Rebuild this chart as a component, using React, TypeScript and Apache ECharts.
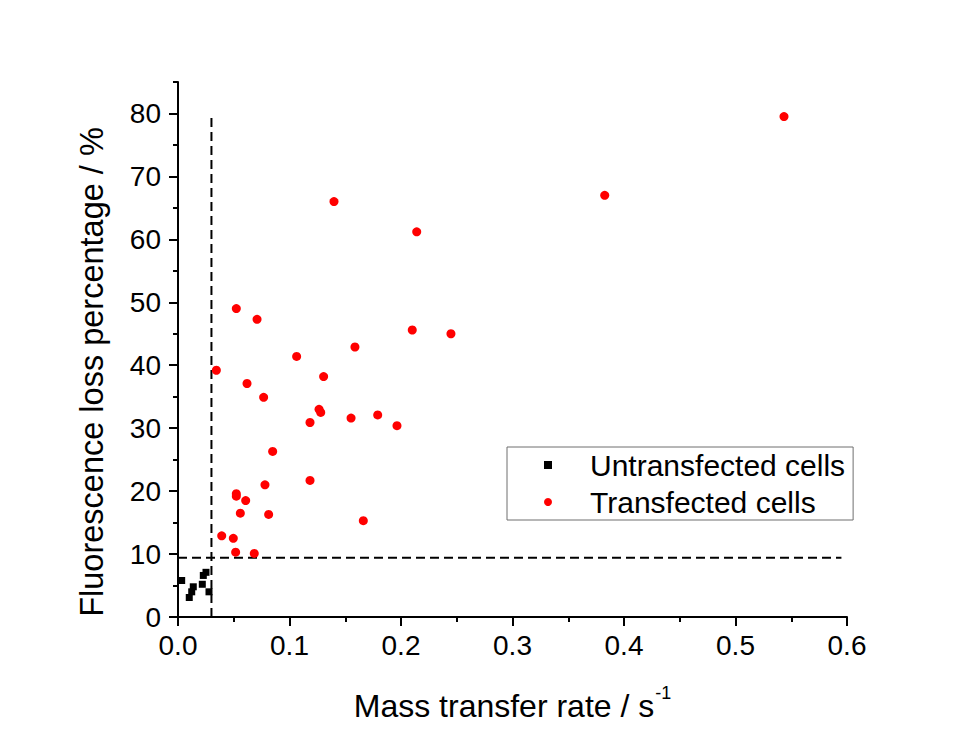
import React, { useEffect, useRef } from "react";
import * as echarts from "echarts";

const untransX = [0.0033, 0.0251, 0.0227, 0.0137, 0.0218, 0.0123, 0.0101, 0.0278];
const untransY = [5.8, 7.1, 6.6, 4.8, 5.2, 4.0, 3.1, 4.0];

const transX = [0.0523, 0.0709, 0.1587, 0.1064, 0.0344, 0.1306, 0.0619, 0.0768, 0.1265, 0.128, 0.1552, 0.1184, 0.0849, 0.1184, 0.078, 0.0523, 0.0523, 0.0607, 0.0559, 0.0813, 0.1662, 0.0392, 0.0496, 0.0517, 0.0684, 0.1399, 0.2141, 0.2101, 0.2448, 0.1791, 0.1964, 0.3827, 0.5435];
const transY = [49.0, 47.3, 42.9, 41.4, 39.2, 38.2, 37.1, 34.9, 33.0, 32.5, 31.6, 30.9, 26.3, 21.7, 21.0, 19.6, 19.2, 18.5, 16.5, 16.3, 15.3, 12.9, 12.5, 10.3, 10.1, 66.0, 61.2, 45.6, 45.0, 32.1, 30.4, 67.0, 79.5];

// threshold dashed lines
const vLineX = [0.03, 0.03];
const vLineY = [0, 80];
const hLineX = [0, 0.595];
const hLineY = [9.4, 9.4];

const yMajorTicks = [0, 10, 20, 30, 40, 50, 60, 70, 80];
const yMinorTicks = [5, 15, 25, 35, 45, 55, 65, 75, 85];

const yTitle = "Fluorescence loss percentage / %";

const FONT = "Liberation Sans, Arial, sans-serif";

const zip = (xs: number[], ys: number[]) => xs.map((x, i) => [x, ys[i]]);

export default function App() {
  const ref = useRef<HTMLDivElement>(null);
  useEffect(() => {
    if (!ref.current) return;
    const chart = echarts.init(ref.current, null, { renderer: "svg" });
    chart.setOption({
      animation: false,
      backgroundColor: "#ffffff",
      textStyle: { fontFamily: FONT },
      grid: { left: 178, right: 123, top: 82, bottom: 119, containLabel: false },
      legend: {
        left: 507,
        top: 447,
        orient: "vertical",
        borderColor: "#6f6f6f",
        borderWidth: 1,
        padding: [1, 8, 1, 37],
        itemWidth: 8,
        itemHeight: 8,
        itemGap: 3,
        textStyle: { fontSize: 30, lineHeight: 34, color: "#000", fontFamily: FONT, padding: [0, 0, 0, 33] },
        data: [
          { name: "Untransfected cells", icon: "rect", itemStyle: { opacity: 1 } },
          { name: "Transfected cells", icon: "circle", itemStyle: { opacity: 1 } },
        ],
      },
      graphic: [
        {
          type: "text",
          x: 92,
          y: 372,
          rotation: Math.PI / 2,
          style: {
            text: yTitle,
            font: `32.5px ${FONT}`,
            fill: "#000",
            textAlign: "center",
            textVerticalAlign: "middle",
          },
        },
      ],
      xAxis: {
        type: "value",
        min: 0,
        max: 0.6,
        interval: 0.1,
        name: "{a|Mass transfer rate / s}{b|-1}",
        nameLocation: "middle",
        nameGap: 67,
        nameTextStyle: {
          rich: {
            a: { fontSize: 32, fontFamily: FONT, color: "#000", lineHeight: 38, verticalAlign: "bottom" },
            b: { fontSize: 18, fontFamily: FONT, color: "#000", lineHeight: 38, verticalAlign: "top", padding: [0, 0, 0, 1] },
          },
        },
        axisLine: { show: true, onZero: false, lineStyle: { color: "#000", width: 2 } },
        axisTick: { show: true, inside: false, length: 9, lineStyle: { color: "#000", width: 2 } },
        minorTick: { show: true, splitNumber: 2, length: 5, lineStyle: { color: "#000", width: 2 } },
        axisLabel: {
          margin: 14,
          fontSize: 28,
          color: "#000",
          fontFamily: FONT,
          formatter: (v: number) => v.toFixed(1),
        },
        splitLine: { show: false },
        minorSplitLine: { show: false },
      },
      yAxis: [
        {
          type: "value",
          min: 0,
          max: 85,
          interval: 10,
          axisLine: { show: true, onZero: false, lineStyle: { color: "#000", width: 2 } },
          axisTick: { show: true, inside: false, length: 9, customValues: yMajorTicks, lineStyle: { color: "#000", width: 2 } },
          axisLabel: {
            margin: 17,
            fontSize: 28,
            color: "#000",
            fontFamily: FONT,
            customValues: yMajorTicks,
          },
          splitLine: { show: false },
        },
        {
          type: "value",
          min: 0,
          max: 85,
          interval: 5,
          position: "left",
          axisLine: { show: false },
          axisTick: { show: true, inside: false, length: 5, customValues: yMinorTicks, lineStyle: { color: "#000", width: 2 } },
          axisLabel: { show: false },
          splitLine: { show: false },
        },
      ],
      series: [
        {
          name: "Untransfected cells",
          type: "scatter",
          symbol: "rect",
          symbolSize: 7,
          itemStyle: { color: "#000000", opacity: 1 },
          data: zip(untransX, untransY),
          z: 3,
        },
        {
          name: "Transfected cells",
          type: "scatter",
          symbol: "circle",
          symbolSize: 9,
          itemStyle: { color: "#ff0000", opacity: 1 },
          data: zip(transX, transY),
          z: 3,
        },
        {
          name: "vline",
          type: "line",
          symbol: "none",
          silent: true,
          lineStyle: { color: "#000", width: 2, type: [9, 5] },
          data: zip(vLineX, vLineY),
          z: 2,
        },
        {
          name: "hline",
          type: "line",
          symbol: "none",
          silent: true,
          lineStyle: { color: "#000", width: 2, type: [9, 5] },
          data: zip(hLineX, hLineY),
          z: 2,
        },
      ],
    });
    return () => chart.dispose();
  }, []);
  return (
    <div
      ref={ref}
      style={{ position: "fixed", left: 0, top: 0, width: 970, height: 736 }}
    />
  );
}
